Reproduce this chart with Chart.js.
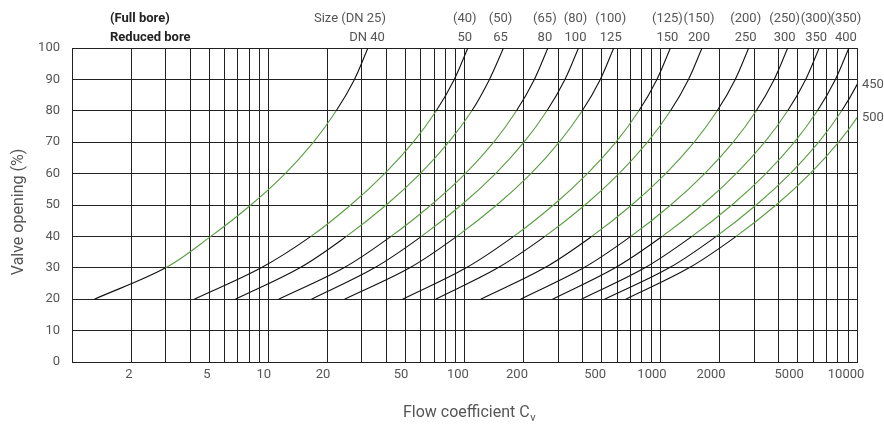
<!DOCTYPE html>
<html>
<head>
<meta charset="utf-8">
<script src="https://cdn.jsdelivr.net/npm/chart.js@4.4.1/dist/chart.umd.min.js"></script>
<style>
  html, body { margin: 0; padding: 0; background: #fff; }
  canvas { display: block; }
</style>
</head>
<body>
<canvas id="chart" width="884" height="424"></canvas>
<script>
(function () {
  // valve opening (%) at which each curve was read
  const opening = [20, 30, 40, 50, 60, 70, 80, 90, 100];

  // flow coefficient Cv per size
  const cvDN40  = [1.3, 3.0, 5.1, 8.15, 12.2, 17.0, 22.2, 27.5, 32.2];
  const cvDN50  = [4.2, 9.2, 16.5, 26.3, 39.2, 54.8, 71.8, 88.7, 104];
  const cvDN65  = [6.8, 14.5, 25.0, 39.9, 59.5, 83.1, 109, 134, 158];
  const cvDN80  = [11.3, 24.3, 42.2, 67.5, 101, 141, 184, 227, 266];
  const cvDN100 = [16.6, 34.8, 60.3, 96.4, 144, 201, 263, 325, 381];
  const cvDN125 = [24.5, 52.6, 91.3, 146, 218, 304, 398, 492, 576];
  const cvDN150 = [48.4, 102, 178, 284, 423, 591, 774, 956, 1120];
  const cvDN200 = [71.3, 148, 257, 411, 613, 856, 1121, 1385, 1623];
  const cvDN250 = [121, 256, 445, 711, 1060, 1481, 1939, 2396, 2807];
  const cvDN300 = [193, 405, 703, 1124, 1675, 2340, 3065, 3786, 4435];
  const cvDN350 = [281, 586, 1017, 1626, 2424, 3386, 4434, 5478, 6417];
  const cvDN400 = [394, 830, 1441, 2304, 3434, 4797, 6283, 7762, 9092];
  const cvDN450 = [518, 1105, 1917, 3065, 4569, 6382, 8358, 10326, 12096];
  const cvDN500 = [663, 1395, 2421, 3870, 5770, 8060, 10556, 13040, 15276];

  const curves = [cvDN40, cvDN50, cvDN65, cvDN80, cvDN100, cvDN125, cvDN150,
                  cvDN200, cvDN250, cvDN300, cvDN350, cvDN400, cvDN450, cvDN500];

  const fullBore = ['Size (DN 25)', '(40)', '(50)', '(65)', '(80)', '(100)',
                    '(125)', '(150)', '(200)', '(250)', '(300)', '(350)'];
  const reducedBore = ['DN 40', '50', '65', '80', '100', '125', '150', '200',
                       '250', '300', '350', '400', '450', '500'];

  // recommended working range (green part of each curve)
  const greenFrom = [30, 40, 40, 40, 40, 40, 40, 40, 40, 40, 40, 40, 40, 40];
  const greenTo = 80;

  const xTickLabels = [2, 5, 10, 20, 50, 100, 200, 500, 1000, 2000, 5000, 10000];

  const BLACK = '#111', GREEN = '#5a9e41', GRID = '#222', TXT = '#555';
  Chart.defaults.font.family = 'Roboto, "DejaVu Sans", sans-serif';

  const datasets = curves.map((cv, i) => ({
    label: reducedBore[i],
    data: opening.map((y, j) => ({ x: cv[j], y })),
    borderColor: BLACK,
    borderWidth: 1.1,
    pointRadius: 0,
    tension: 0.35,
    segment: {
      borderColor: c => (c.p0.parsed.y >= greenFrom[i] && c.p1.parsed.y <= greenTo) ? GREEN : BLACK
    }
  }));

  const textPlugin = {
    id: 'texts',
    afterDraw(chart) {
      const { ctx, chartArea: a, scales: { x, y } } = chart;
      ctx.save();
      ctx.textBaseline = 'middle';
      ctx.fillStyle = TXT;
      ctx.font = '13px Roboto';

      // x tick labels (sit a little left of their grid line, as in the source)
      ctx.textAlign = 'center';
      xTickLabels.forEach(v => {
        const s = String(v);
        const w = ctx.measureText(s).width;
        ctx.fillText(s, x.getPixelForValue(v) - 0.3 * w, a.bottom + 13);
      });

      // size labels above / right of curves
      curves.forEach((cv, i) => {
        const top = cv[cv.length - 1];
        if (top <= x.max) {
          const px = x.getPixelForValue(top);
          if (i === 0) {
            ctx.textAlign = 'right';
            ctx.fillText(fullBore[i], px + 18, 19);
            ctx.fillText(reducedBore[i], px + 17, 37.5);
          } else {
            ctx.textAlign = 'center';
            ctx.fillText(fullBore[i], px - 3, 19);
            ctx.fillText(reducedBore[i], px - 3, 37.5);
          }
        } else {
          const j = cv.findIndex(c => c > x.max);
          const f = (Math.log10(x.max) - Math.log10(cv[j - 1])) /
                    (Math.log10(cv[j]) - Math.log10(cv[j - 1]));
          const val = opening[j - 1] + f * (opening[j] - opening[j - 1]);
          ctx.textAlign = 'left';
          ctx.fillText(reducedBore[i], a.right + 5, y.getPixelForValue(val) + 1);
        }
      });

      ctx.font = 'bold 13px Roboto';
      ctx.fillStyle = '#222';
      ctx.textAlign = 'left';
      ctx.fillText('(Full bore)', 110, 19);
      ctx.fillText('Reduced bore', 110, 37.5);

      // axis titles
      ctx.fillStyle = TXT;
      ctx.font = '16px Roboto';
      ctx.textAlign = 'left';
      const main = 'Flow coefficient C';
      const w1 = ctx.measureText(main).width;
      ctx.fillText(main, 403, 413);
      ctx.font = '11px Roboto';
      ctx.fillText('v', 403 + w1 + 0.5, 418);

      ctx.font = '16px Roboto';
      ctx.translate(19, 212);
      ctx.rotate(-Math.PI / 2);
      ctx.textAlign = 'center';
      ctx.fillText('Valve opening (%)', 0, 0);
      ctx.restore();
    }
  };

  new Chart(document.getElementById('chart'), {
    type: 'line',
    data: { datasets },
    options: {
      responsive: false,
      animation: false,
      devicePixelRatio: 1,
      layout: { padding: { top: 48, right: 27, left: 0, bottom: 0 } },
      plugins: { legend: { display: false }, tooltip: { enabled: false } },
      scales: {
        x: {
          type: 'logarithmic',
          min: 1, max: 10000,
          afterBuildTicks(scale) {
            const t = [];
            for (let e = 0; e < 4; e++) {
              for (let s = 1; s < 10; s++) t.push({ value: s * Math.pow(10, e) });
            }
            t.push({ value: 10000 });
            scale.ticks = t;
          },
          afterFit(scale) { scale.height = 62; },
          grid: { color: GRID, lineWidth: 1, drawTicks: false },
          border: { color: GRID },
          ticks: { display: false, autoSkip: false }
        },
        y: {
          min: 0, max: 100,
          afterFit(scale) { scale.width = 72; },
          grid: { color: GRID, lineWidth: 1, drawTicks: false },
          border: { color: GRID },
          ticks: { stepSize: 10, padding: 12, color: TXT, font: { size: 13 } }
        }
      }
    },
    plugins: [textPlugin]
  });
})();
</script>
</body>
</html>
